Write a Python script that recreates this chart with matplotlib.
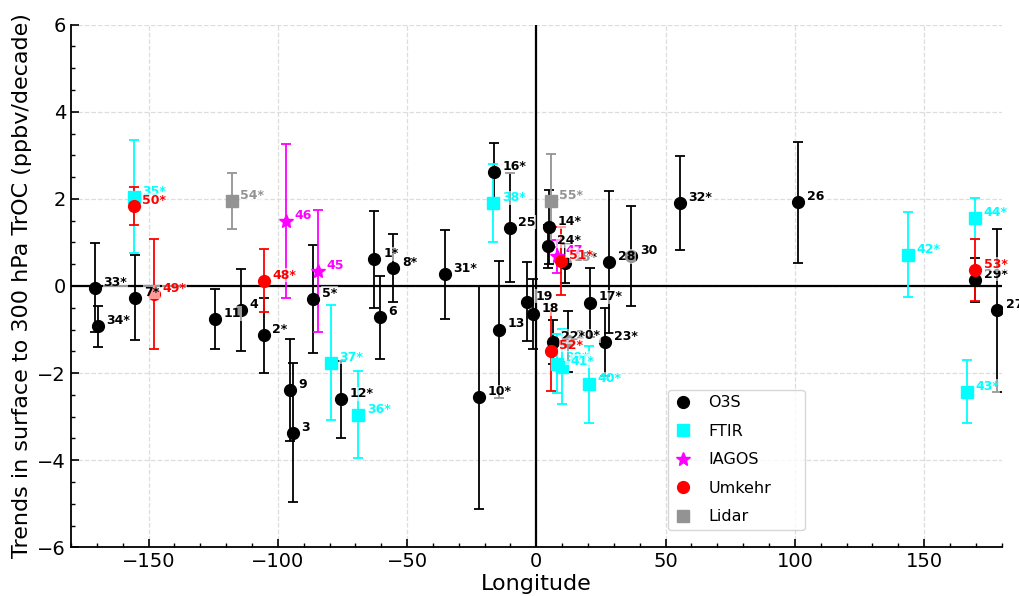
import matplotlib
matplotlib.use("Agg")
import matplotlib.pyplot as plt
from matplotlib.ticker import MultipleLocator
from matplotlib.lines import Line2D

# ---------------- data ----------------
o3s_labels = ["1*", "2*", "3", "4", "5*", "6", "7*", "8*", "9", "10*", "11", "12*",
              "13", "14*", "15*", "16*", "17*", "18", "19", "20*", "22*", "23*", "24*",
              "25", "26", "27", "28", "29*", "30", "31*", "32*", "33*", "34*"]
o3s_lon = [-62.6, -105.5, -94.2, -114.3, -86.2, -60.5, -155.1, -55.3, -95.2, -22.1, -124.3, -75.6,
           -14.3, 5.0, 11.1, -16.4, 20.9, -1.3, -3.6, 12.2, 6.3, 26.6, 4.6,
           -10.3, 101.2, 178.2, 28.2, 169.7, 36.7, -35.5, 55.4, -170.8, -169.7]
o3s_val = [0.61, -1.13, -3.37, -0.55, -0.30, -0.72, -0.27, 0.41, -2.39, -2.56, -0.76, -2.60,
           -1.00, 1.35, 0.52, 2.61, -0.38, -0.65, -0.36, -1.27, -1.29, -1.28, 0.91,
           1.34, 1.92, -0.56, 0.55, 0.14, 0.69, 0.27, 1.90, -0.04, -0.93]
o3s_err = [1.12, 0.86, 1.60, 0.95, 1.24, 0.96, 0.98, 0.78, 1.17, 2.57, 0.68, 0.88,
           1.58, 0.85, 0.44, 0.67, 0.80, 0.80, 0.90, 0.70, 0.50, 0.78, 0.50,
           1.25, 1.39, 1.88, 1.62, 0.50, 1.14, 1.02, 1.08, 1.02, 0.46]

ftir_labels = ["35*", "36*", "37*", "38*", "39*", "40*", "41*", "42*", "43*", "44*"]
ftir_lon = [-155.8, -68.9, -79.5, -16.6, 8.0, 20.2, 10.0, 143.8, 166.6, 169.7]
ftir_val = [2.05, -2.96, -1.76, 1.90, -1.78, -2.26, -1.85, 0.72, -2.43, 1.55]
ftir_err = [1.30, 1.00, 1.32, 0.89, 0.67, 0.88, 0.87, 0.98, 0.72, 0.46]

iagos_labels = ["45", "46", "47"]
iagos_lon = [-84.6, -97.0, 8.0]
iagos_val = [0.34, 1.50, 0.68]
iagos_err = [1.40, 1.77, 0.38]

umk_labels = ["48*", "49*", "50*", "51*", "52*", "53*"]
umk_lon = [-105.5, -147.8, -155.8, 9.5, 5.5, 169.7]
umk_val = [0.12, -0.18, 1.84, 0.57, -1.49, 0.37]
umk_err = [0.72, 1.26, 0.44, 0.78, 0.91, 0.72]

lidar_labels = ["54*", "55*"]
lidar_lon = [-117.9, 5.5]
lidar_val = [1.96, 1.96]
lidar_err = [0.64, 1.07]

# ---------------- figure ----------------
fig = plt.figure(figsize=(10.2, 5.96), dpi=100)
ax = fig.add_axes([0.0696, 0.0817, 0.9124, 0.8769])

CYAN = "#00FFFF"
MAG = "#FF00FF"
RED = "#FF0000"
GREY = "#939393"

series = [
    ("O3S", o3s_lon, o3s_val, o3s_err, o3s_labels, "black", "o", 8.5),
    ("FTIR", ftir_lon, ftir_val, ftir_err, ftir_labels, CYAN, "s", 8),
    ("IAGOS", iagos_lon, iagos_val, iagos_err, iagos_labels, MAG, "*", 10),
    ("Umkehr", umk_lon, umk_val, umk_err, umk_labels, RED, "o", 8.5),
    ("Lidar", lidar_lon, lidar_val, lidar_err, lidar_labels, GREY, "s", 8),
]

ax.axhline(0, color="black", lw=1.6, zorder=1.5)
ax.axvline(0, color="black", lw=1.6, zorder=1.5)

for name, lon, val, err, labs, col, mk, ms in series:
    ax.errorbar(lon, val, yerr=err, fmt=mk, color=col, ms=ms, capsize=3.5,
                elinewidth=1.3, capthick=1.3, zorder=2)

for name, lon, val, err, labs, col, mk, ms in series:
    for x, y, t in zip(lon, val, labs):
        ax.annotate(t, (x, y), xytext=(6.2, 4.0), textcoords="offset points",
                    ha="left", va="center", fontsize=9, fontweight="bold",
                    color=col, zorder=3,
                    bbox=dict(boxstyle="square,pad=0.05", fc="white", ec="none", alpha=0.6))

ax.set_xlim(-180, 180)
ax.set_ylim(-6, 6)
ax.xaxis.set_major_locator(MultipleLocator(50))
ax.xaxis.set_minor_locator(MultipleLocator(10))
ax.yaxis.set_major_locator(MultipleLocator(2))
ax.yaxis.set_minor_locator(MultipleLocator(0.5))
ax.tick_params(which="both", direction="in", labelsize=14)
ax.tick_params(which="major", length=6, width=1.2)
ax.tick_params(which="minor", length=3, width=1.0)
ax.grid(True, which="major", ls="--", color="#dddddd", lw=0.9)
ax.set_axisbelow(True)
for s in ["top", "right"]:
    ax.spines[s].set_visible(False)
for s in ["left", "bottom"]:
    ax.spines[s].set_linewidth(1.3)

ax.set_xlabel("Longitude", fontsize=16, labelpad=2)
ax.set_ylabel("Trends in surface to 300 hPa TrOC (ppbv/decade)", fontsize=16, labelpad=4)

handles = [Line2D([], [], ls="none", marker=mk, color=col, ms=ms)
           for name, lon, val, err, labs, col, mk, ms in series]
names = [s[0] for s in series]
ax.legend(handles, names, loc="lower left", bbox_to_anchor=(0.6413, 0.033, 0.147, 0.268),
          mode="expand", borderaxespad=0.0,
          fontsize=11.5, labelspacing=0.85, handlelength=1.2, handletextpad=1.0,
          borderpad=0.35, frameon=True)

fig.savefig("out.png", dpi=100)
